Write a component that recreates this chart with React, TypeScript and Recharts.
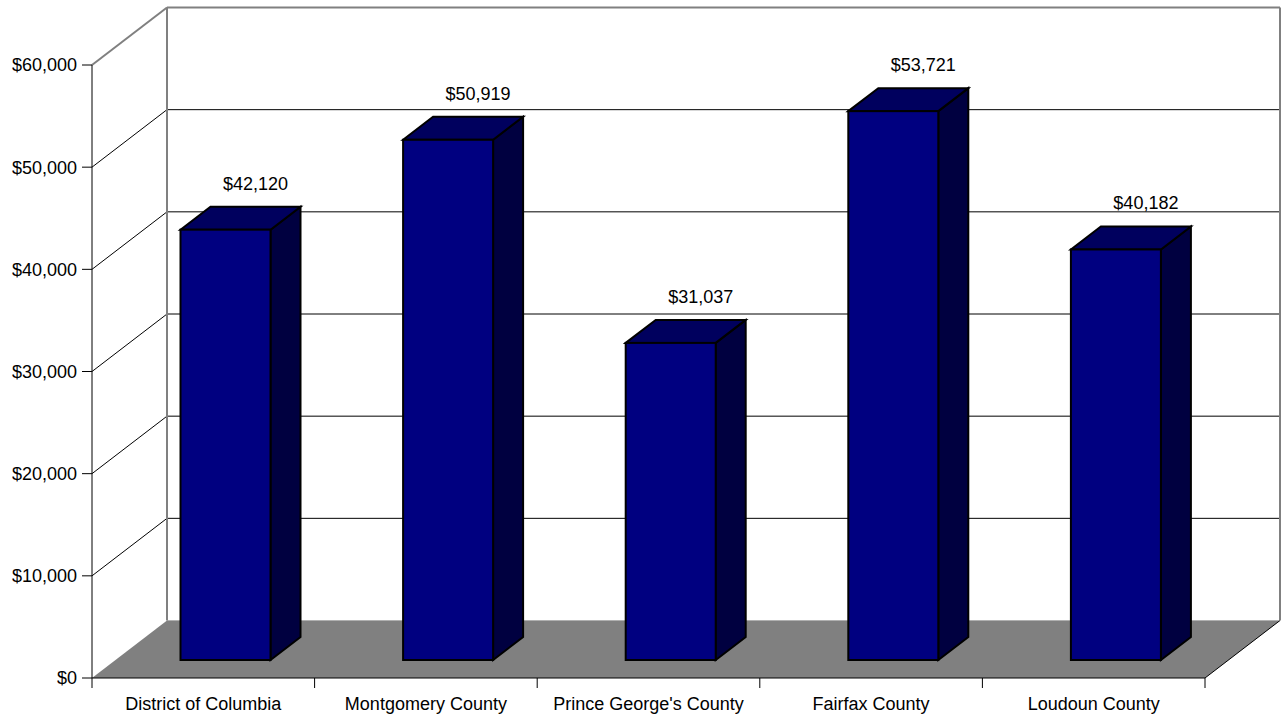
/**
 * Median household income by county — 3D-style column chart.
 * Recharts draws the bars through its scales; the depth is a fixed projection offset.
 */
import { BarChart, Bar, XAxis, YAxis, CartesianGrid, LabelList } from 'recharts';

const counties = [
  'District of Columbia',
  'Montgomery County',
  "Prince George's County",
  'Fairfax County',
  'Loudoun County',
];
const income = [42120, 50919, 31037, 53721, 40182];
const yTicks = [0, 10000, 20000, 30000, 40000, 50000, 60000];

const W = 1281;
const H = 717;
const MARGIN = { top: 65, right: 76, left: 12, bottom: 0 };
const Y_AXIS_W = 80;
const X_AXIS_H = 39;
const PLOT_TOP = MARGIN.top;
const PLOT_BOTTOM = H - MARGIN.bottom - X_AXIS_H;

// projection: full depth of the box, position of the bar's front face, bar depth
const WX = 75, WY = -57.5;
const DX = 22.5, DY = -18;
const BX = 30, BY = -23;

const FONT = '"Liberation Sans", Arial, sans-serif';
const money = (v: number) => `$${v.toLocaleString('en-US')}`;

const data = counties.map((name, i) => ({ name, income: income[i] }));

const Box3D = (props: any) => {
  const { x, y, width, height } = props;
  if (width == null || height == null) return null;
  const fx = x + DX, fy = y + DY;
  const top = `${fx},${fy} ${fx + BX},${fy + BY} ${fx + width + BX},${fy + BY} ${fx + width},${fy}`;
  const side = `${fx + width},${fy} ${fx + width + BX},${fy + BY} ${fx + width + BX},${fy + height + BY} ${fx + width},${fy + height}`;
  return (
    <g stroke="#000" strokeWidth={2} strokeLinejoin="miter">
      <polygon points={side} fill="#000040" />
      <polygon points={top} fill="#00005E" />
      <rect x={fx} y={fy} width={width} height={height} fill="#000080" />
    </g>
  );
};

const renderLabel = (p: any) => {
  const x = p.x ?? p.viewBox?.x;
  const y = p.y ?? p.viewBox?.y;
  const width = p.width ?? p.viewBox?.width;
  return (
    <text
      x={x + DX + width / 2 + 30}
      y={y + DY - 40}
      textAnchor="middle"
      fontFamily={FONT}
      fontSize={18}
      fill="#000"
    >
      {money(p.value)}
    </text>
  );
};

const renderGridLine = (p: any) => {
  const { x1, x2, y1 } = p;
  const by = y1 + WY;
  const isTop = Math.abs(y1 - PLOT_TOP) < 1;
  const isBottom = Math.abs(y1 - PLOT_BOTTOM) < 1;
  if (isBottom) {
    return (
      <g key={p.key}>
        <polygon
          points={`${x1},${y1} ${x2},${y1} ${x2 + WX},${by} ${x1 + WX},${by}`}
          fill="#808080"
        />
        <line x1={x1 + WX} y1={by} x2={x2 + WX} y2={by} stroke="#b0b0b0" />
        <line x1={x2} y1={y1} x2={x2 + WX} y2={by} stroke="#000" />
      </g>
    );
  }
  if (isTop) {
    return (
      <g key={p.key} stroke="#808080" strokeWidth={2} fill="none">
        <line x1={x1} y1={y1} x2={x1 + WX} y2={by} />
        <line x1={x1 + WX} y1={by} x2={x2 + WX} y2={by} />
        <line x1={x1 + WX} y1={by} x2={x1 + WX} y2={PLOT_BOTTOM + WY} />
        <line x1={x2 + WX} y1={by} x2={x2 + WX} y2={PLOT_BOTTOM + WY} />
      </g>
    );
  }
  return (
    <g key={p.key} stroke="#000" strokeWidth={1}>
      <line x1={x1} y1={y1} x2={x1 + WX} y2={by} />
      <line x1={x1 + WX} y1={by} x2={x2 + WX} y2={by} />
    </g>
  );
};

const CategoryTick = (props: any) => {
  const { x, y, payload, index, visibleTicksCount } = props;
  const half = payload?.offset ?? 0;
  const last = index === (visibleTicksCount ?? counties.length) - 1;
  return (
    <g>
      <line x1={x - half} y1={y} x2={x - half} y2={y + 10} stroke="#000" />
      {last && <line x1={x + half} y1={y} x2={x + half} y2={y + 10} stroke="#000" />}
      <text x={x} y={y + 32} textAnchor="middle" fontFamily={FONT} fontSize={18} fill="#000">
        {payload.value}
      </text>
    </g>
  );
};

export default function App() {
  return (
    <div style={{ position: 'absolute', left: 0, top: 0, width: W, height: H, background: '#fff' }}>
      <BarChart width={W} height={H} data={data} margin={MARGIN}>
        <CartesianGrid vertical={false} horizontal={renderGridLine} />
        <XAxis
          dataKey="name"
          height={X_AXIS_H}
          tickLine={false}
          tickSize={0}
          tickMargin={0}
          axisLine={{ stroke: '#000', strokeWidth: 1 }}
          tick={<CategoryTick />}
          interval={0}
        />
        <YAxis
          width={Y_AXIS_W}
          domain={[0, 60000]}
          ticks={yTicks}
          tickFormatter={money}
          axisLine={{ stroke: '#000', strokeWidth: 1 }}
          tickLine={{ stroke: '#000', strokeWidth: 1 }}
          tickSize={10}
          tickMargin={5}
          tick={{ fontSize: 18, fontFamily: FONT, fill: '#000' }}
        />
        <Bar dataKey="income" barSize={90} shape={<Box3D />} isAnimationActive={false}>
          <LabelList dataKey="income" content={renderLabel} />
        </Bar>
      </BarChart>
    </div>
  );
}
